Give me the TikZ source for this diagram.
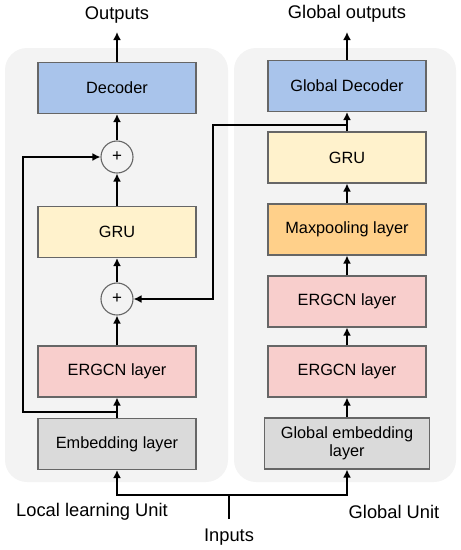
\documentclass[tikz,border=0pt]{standalone}
\usepackage{fontspec}
\setmainfont{Liberation Sans}
\usetikzlibrary{arrows.meta}
\definecolor{panelbg}{HTML}{F3F3F3}
\definecolor{decblue}{HTML}{A9C4EB}
\definecolor{gruyel}{HTML}{FFF2CC}
\definecolor{maxor}{HTML}{FFD08A}
\definecolor{ergpink}{HTML}{F8CECC}
\definecolor{embgray}{HTML}{DADADA}
\definecolor{edgegray}{HTML}{666666}
\tikzset{
  panel/.style={fill=panelbg, draw=none, rounded corners=22pt},
  layerbox/.style={draw=edgegray, line width=1.1pt, minimum width=158pt, minimum height=51pt, inner sep=0pt, align=center, font=\fontsize{16.3}{18.5}\selectfont},
  plusnode/.style={circle, draw=edgegray, fill=panelbg, line width=1.1pt, minimum size=32pt, inner sep=0pt, font=\fontsize{17}{18}\selectfont},
  arr/.style={line width=2pt, -{Latex[length=8pt,width=8pt]}},
  ln/.style={line width=2pt},
  caption/.style={font=\fontsize{18.3}{21}\selectfont, inner sep=0pt}
}
\begin{document}
\begin{tikzpicture}[x=1pt,y=-1pt]
\useasboundingbox (0,0) rectangle (461,550);
% panels
\fill[panel] (5,48) rectangle (228,482);
\fill[panel] (234,48) rectangle (456,482);
% left column
\node[layerbox, fill=decblue] (dec) at (117,88) {Decoder};
\node[plusnode] (p1) at (117,157) {+};
\node[layerbox, fill=gruyel] (gru) at (117,232) {GRU};
\node[plusnode] (p2) at (117,299) {+};
\node[layerbox, fill=ergpink] (erg) at (117,371.5) {ERGCN layer};
\node[layerbox, fill=embgray] (emb) at (117,444) {Embedding layer};
% right column
\node[layerbox, fill=decblue] (gdec) at (347,86) {Global Decoder};
\node[layerbox, fill=gruyel] (ggru) at (347,157.5) {GRU};
\node[layerbox, fill=maxor] (maxp) at (347,229.5) {Maxpooling layer};
\node[layerbox, fill=ergpink] (erg1) at (347,301.5) {ERGCN layer};
\node[layerbox, fill=ergpink] (erg2) at (347,371.5) {ERGCN layer};
\node[layerbox, fill=embgray, minimum width=165pt] (gemb) at (347,443.5) {Global embedding\\layer};
% captions
\node[caption] (out) at (117,15) {Outputs};
\node[caption] (gout) at (347,14) {Global outputs};
\node[caption] (local) at (92,512) {Local learning Unit};
\node[caption] (glob) at (394,512) {Global Unit};
\node[caption] (inp) at (229,537) {Inputs};
% coordinates
\coordinate (o1) at (117,32);
\coordinate (o2) at (347,32);
\coordinate (j1) at (117,412);
\coordinate (j2) at (347,125);
\coordinate (jin) at (229,495);
\coordinate (inend) at (229,519);
% left arrows
\draw[arr] (dec) -- (o1);
\draw[arr] (p1) -- (dec);
\draw[arr] (gru) -- (p1);
\draw[arr] (p2) -- (gru);
\draw[arr] (erg) -- (p2);
\draw[arr] (emb) -- (erg);
\draw[arr] (j1) -- (23,412) |- (p1);
% right arrows
\draw[arr] (gdec) -- (o2);
\draw[arr] (ggru) -- (gdec);
\draw[arr] (maxp) -- (ggru);
\draw[arr] (erg1) -- (maxp);
\draw[arr] (erg2) -- (erg1);
\draw[arr] (gemb) -- (erg2);
\draw[arr] (j2) -- (213,125) |- (p2);
% inputs
\draw[ln] (inend) -- (jin);
\draw[arr] (jin) -| (emb);
\draw[arr] (jin) -| (gemb);
\end{tikzpicture}
\end{document}
